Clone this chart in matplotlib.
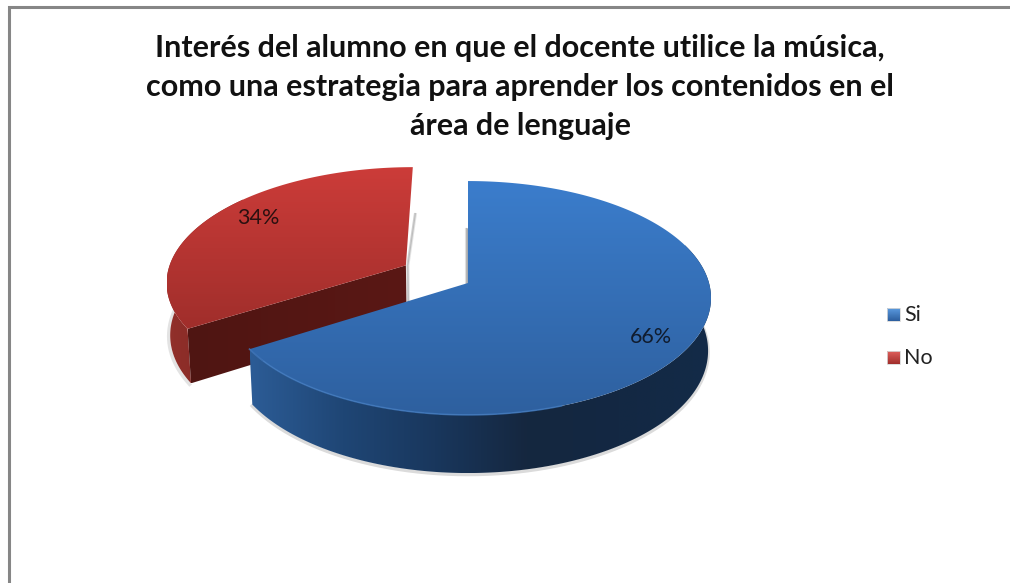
import numpy as np
import matplotlib
matplotlib.use("Agg")
import matplotlib.pyplot as plt
from matplotlib.patches import Polygon, Rectangle
from matplotlib.colors import LinearSegmentedColormap

title = ("Interés del alumno en que el docente utilice la música,\n"
         "como una estrategia para aprender los contenidos en el\n"
         "área de lenguaje")
categories = ["Si", "No"]
values = [66, 34]
explode = [0.0, 0.30]

W, H = 1010, 583
plt.rcParams["font.family"] = ["Lato", "DejaVu Sans"]
fig = plt.figure(figsize=(W / 100, H / 100), dpi=100)
ax = fig.add_axes([0, 0, 1, 1])
ax.set_axis_off()

# Perspective projection of the pie disc (unit circle) onto the page
CX, CY, A, C, D, PERSP, DEPTH = 468.0, 283.0, 241.0, 115.0, 53.0, 0.128, 0.012


def project(x, y, z=0.0):
    w = 1 + PERSP * np.asarray(y) + DEPTH * z
    return CX + A * np.asarray(x) / w, CY - (C * np.asarray(y) - D * z) / w


def arc(t0, t1, off, z=0.0, n=240):
    t = np.radians(np.linspace(t0, t1, n))
    return project(off[0] + np.sin(t), off[1] + np.cos(t), z)


def poly(xs, ys):
    return np.column_stack([xs, ys])


def gradient(points, stops, vertical, zorder):
    xs, ys = points[:, 0], points[:, 1]
    ext = [xs.min(), xs.max(), ys.max(), ys.min()]
    g = np.linspace(0, 1, 256)
    g = g[:, None] if vertical else g[None, :]
    cm = LinearSegmentedColormap.from_list("g", stops)
    im = ax.imshow(g, extent=ext, cmap=cm, aspect="auto", zorder=zorder,
                   interpolation="bilinear", origin="upper")
    clip = Polygon(points, closed=True, transform=ax.transData,
                   fc="none", ec="none")
    ax.add_patch(clip)
    im.set_clip_path(clip)


fracs = np.array(values) / sum(values) * 360
ends = np.cumsum(fracs)
starts = ends - fracs
mids = (starts + ends) / 2
offs = [(e * np.sin(np.radians(m)), e * np.cos(np.radians(m)) + (0.012 if e else 0))
        for e, m in zip(explode, mids)]

# --- Red slice ("No")
s, e, off = starts[1], ends[1], offs[1]
ax0 = project(off[0], off[1])
ax1 = project(off[0], off[1], 1)
tx, ty = arc(s, e, off)
bx, by = arc(s, min(e, 310), off, 1)
sx, sy = arc(s, min(e, 310), off)
# soft shadows
ax.plot(bx - 1.5, by + 1, color="#777777", alpha=0.2, lw=2.5, zorder=1)
bt = project(off[0], off[1] + 1, 1)
for dx, a in ((2.5, 0.2), (1.5, 0.35)):
    ax.plot([bt[0] + dx, ax0[0] + dx, ax1[0] + dx],
            [bt[1], ax0[1], ax1[1]], color="#777777", alpha=a, lw=1.5, zorder=1)
cx0, cy0 = project(off[0] + np.sin(np.radians(s)), off[1] + np.cos(np.radians(s)))
cx1, cy1 = project(off[0] + np.sin(np.radians(s)), off[1] + np.cos(np.radians(s)), 1)
gradient(poly(np.r_[sx, bx[::-1]], np.r_[sy, by[::-1]]),
         ["#92302b", "#7c2420"], False, 2)
gradient(np.array([[ax0[0], ax0[1]], [cx0, cy0], [cx1, cy1], [ax1[0], ax1[1]]]),
         ["#4f1512", "#5a1815"], False, 3)
gradient(poly(np.r_[ax0[0], tx], np.r_[ax0[1], ty]),
         ["#cc3c39", "#a02e2b"], True, 4)

# --- Blue slice ("Si")
s, e, off = starts[0], ends[0], offs[0]
ap0 = project(off[0], off[1])
ap1 = project(off[0], off[1], 1)
tx, ty = arc(s, e, off)
wx, wy = arc(70, e, off)
bx, by = arc(70, e, off, 1)
ax.plot(bx, by + 1.5, color="#888888", alpha=0.3, lw=2.5, zorder=5)
bt = project(off[0], off[1] + 1, 1)
for dx, a in ((-2.5, 0.22), (-1.5, 0.4)):
    ax.plot([bt[0] + dx, ap0[0] + dx], [bt[1], ap0[1]],
            color="#777777", alpha=a, lw=1.5, zorder=1)
ax.plot([ap0[0], ap0[0]], [bt[1], ap0[1]], color="#1d3a5f", lw=1, zorder=1.5)
gradient(poly(np.r_[wx, bx[::-1]], np.r_[wy, by[::-1]]),
         ["#2c5c96", "#1f4675", "#19375d", "#15273f", "#132843", "#132b48"],
         False, 6)
gradient(poly(np.r_[ap0[0], tx], np.r_[ap0[1], ty]),
         ["#3b7dcc", "#2e609f"], True, 7)
# rim highlight on the front edge
angles = np.linspace(s, e, tx.size)
mask = (angles > 160)
ax.plot(tx[mask], ty[mask], color="#3f78bd", lw=1.2, alpha=0.8, zorder=8)

# --- Frame (top and left rules only)
ax.plot([9, 9, W], [H, 7, 7], color="#868686", lw=2.2, zorder=9,
        solid_joinstyle="miter")

# --- Text
ax.text(520, 87, title, ha="center", va="center", fontsize=22, weight="bold",
        color="#111111", linespacing=1.5, zorder=10)
ax.text(651, 337, f"{values[0]}%", ha="center", va="center", fontsize=15.5,
        color="#101c2e", zorder=10)
ax.text(258, 218, f"{values[1]}%", ha="center", va="center", fontsize=15.5,
        color="#2a1010", zorder=10)

# --- Legend
legend_y = [315, 358]
legend_cols = [("#5b9be0", "#2c5e9e"), ("#e0605c", "#a02e2b")]
for name, y, (c0, c1) in zip(categories, legend_y, legend_cols):
    sq = np.array([[887, y - 7], [900, y - 7], [900, y + 6], [887, y + 6]], float)
    gradient(sq, [c0, c1], True, 10)
    ax.add_patch(Rectangle((887, y - 7), 13, 13, fc="none", ec="#d8d8d8",
                           lw=0.6, zorder=11))
    ax.text(904, y, name, ha="left", va="center", fontsize=15.5,
            color="#222222", zorder=11)

ax.set_xlim(0, W)
ax.set_ylim(H, 0)
fig.savefig("out.png", dpi=100, facecolor="white")
